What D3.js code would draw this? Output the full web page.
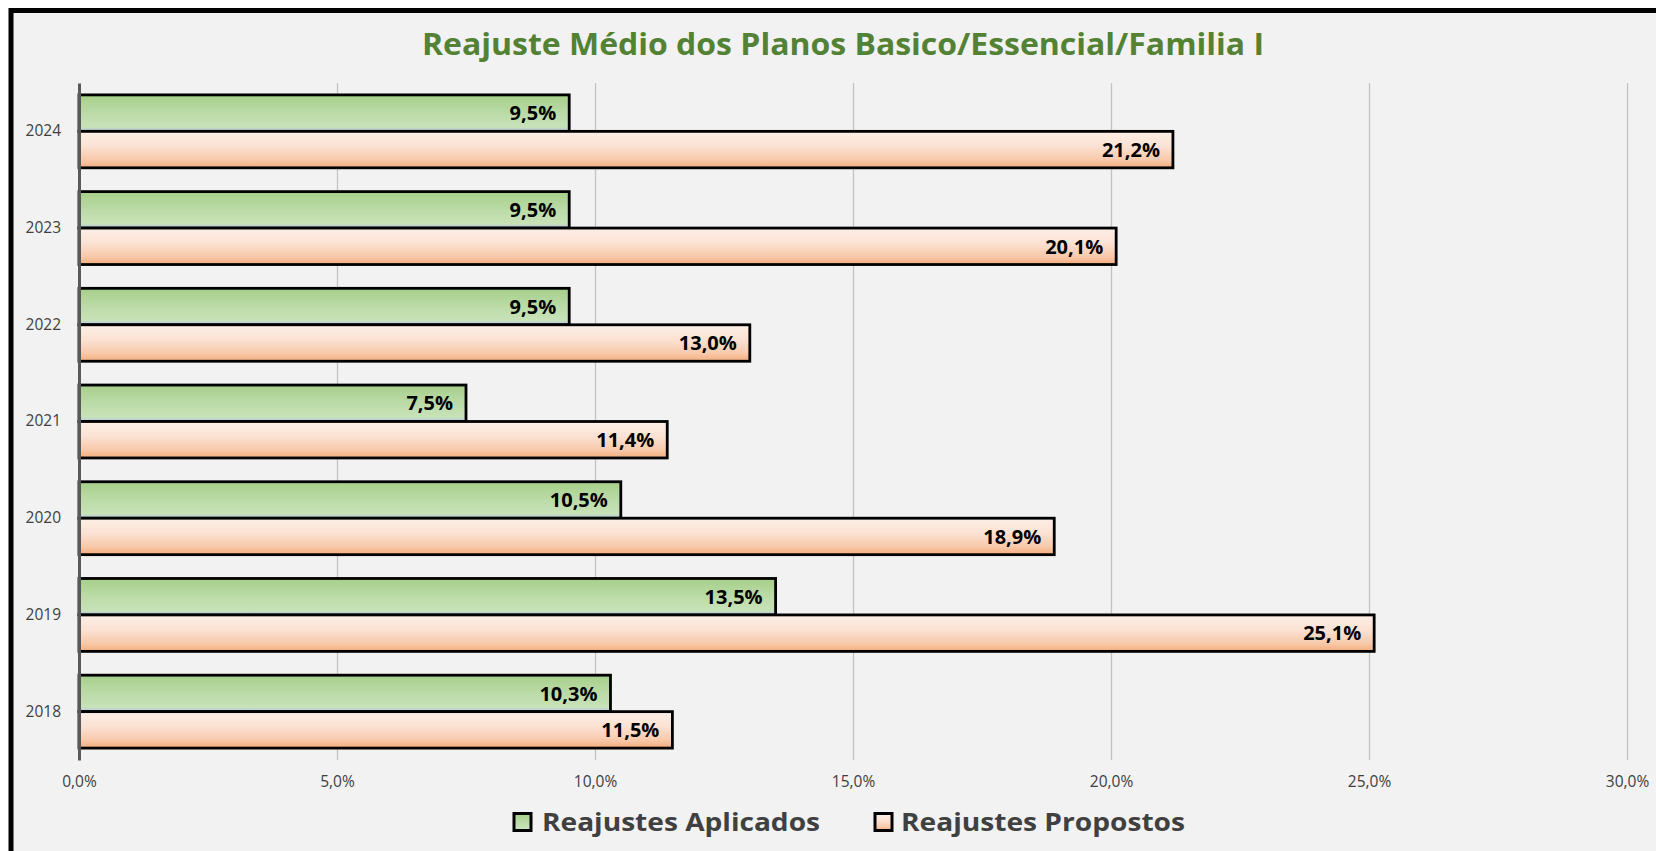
<!DOCTYPE html>
<html>
<head>
<meta charset="utf-8">
<script src="https://cdn.jsdelivr.net/npm/d3@7"></script>
<style>
  html, body { margin: 0; padding: 0; background: #ffffff; }
  svg { display: block; font-family: 'Open Sans', 'DejaVu Sans', sans-serif; }
</style>
</head>
<body>
<div id="chart"></div>
<script>
// Data
const years = ['2024', '2023', '2022', '2021', '2020', '2019', '2018'];
const aplicados = [9.5, 9.5, 9.5, 7.5, 10.5, 13.5, 10.3];
const propostos = [21.2, 20.1, 13.0, 11.4, 18.9, 25.1, 11.5];
const seriesNames = ['Reajustes Aplicados', 'Reajustes Propostos'];
const xTicks = [0, 5, 10, 15, 20, 25, 30];
const xTickLabels = ['0,0%', '5,0%', '10,0%', '15,0%', '20,0%', '25,0%', '30,0%'];
const title = 'Reajuste Médio dos Planos Basico/Essencial/Familia I';

const WIDTH = 1656;
const HEIGHT = 851;
const plot = { left: 79, right: 1627, top: 83, bottom: 760 };

const svg = d3.select('#chart')
    .append('svg')
    .attr('width', WIDTH)
    .attr('height', HEIGHT);

// Gradients for the bar fills
const defs = svg.append('defs');

const greenGrad = defs.append('linearGradient')
    .attr('id', 'grad-green')
    .attr('x1', 0).attr('y1', 0).attr('x2', 0).attr('y2', 1);
[['0%', '#a6cf8a'], ['55%', '#bddcaa'], ['88%', '#c8e2b8'], ['94%', '#bcd3d2'], ['100%', '#b4c7e0']]
    .forEach(([o, c]) => greenGrad.append('stop').attr('offset', o).attr('stop-color', c));

const orangeGrad = defs.append('linearGradient')
    .attr('id', 'grad-orange')
    .attr('x1', 0).attr('y1', 0).attr('x2', 0).attr('y2', 1);
[['0%', '#fdefe6'], ['40%', '#fbe2d4'], ['78%', '#f8c9aa'], ['100%', '#f3ad7e']]
    .forEach(([o, c]) => orangeGrad.append('stop').attr('offset', o).attr('stop-color', c));

const fills = ['url(#grad-green)', 'url(#grad-orange)'];

// Chart area with the thick frame (only top/left visible)
svg.append('rect')
    .attr('x', 11)
    .attr('y', 10.5)
    .attr('width', 1800)
    .attr('height', 1000)
    .style('fill', '#f2f2f2')
    .style('stroke', '#000')
    .style('stroke-width', 5);

// Title
svg.append('text')
    .attr('x', 843)
    .attr('y', 55)
    .attr('text-anchor', 'middle')
    .attr('textLength', 842)
    .attr('lengthAdjust', 'spacingAndGlyphs')
    .style('font-size', '31px')
    .style('font-weight', 700)
    .style('fill', '#548235')
    .text(title);

// Scales
const x = d3.scaleLinear()
    .domain([0, 30])
    .range([plot.left, plot.right]);

const y = d3.scaleBand()
    .domain(years)
    .range([plot.top, plot.bottom])
    .paddingInner(0.246)
    .paddingOuter(0.123);

const sub = d3.scaleBand()
    .domain([0, 1])
    .range([0, y.bandwidth()]);

// Gridlines + x tick labels
const xAxis = d3.axisBottom(x)
    .tickValues(xTicks)
    .tickFormat((d, i) => xTickLabels[i])
    .tickSize(-(plot.bottom - plot.top))
    .tickSizeOuter(0)
    .tickPadding(16);

const gx = svg.append('g')
    .attr('transform', `translate(0,${plot.bottom})`)
    .call(xAxis);
gx.select('.domain').remove();
gx.selectAll('.tick line')
    .style('stroke', '#c2c2c2')
    .style('stroke-width', 1.3)
    .filter(d => d === 0).remove();
gx.selectAll('.tick text')
    .style('font-family', "'Open Sans', sans-serif")
    .style('font-size', '15.5px')
    .style('fill', '#404040');

// Bars
const rows = years.map((yr, i) => ({ year: yr, values: [aplicados[i], propostos[i]] }));

const groups = svg.append('g')
    .selectAll('g')
    .data(rows)
    .join('g')
    .attr('transform', d => `translate(0,${y(d.year)})`);

const bars = groups.selectAll('g.bar')
    .data(d => d.values.map((v, k) => ({ v, k })))
    .join('g')
    .attr('class', 'bar');

bars.append('rect')
    .attr('x', x(0))
    .attr('y', d => sub(d.k))
    .attr('width', d => x(d.v) - x(0))
    .attr('height', sub.bandwidth())
    .style('fill', d => fills[d.k])
    .style('stroke', '#000')
    .style('stroke-width', 2.8);

bars.append('text')
    .attr('x', d => x(d.v) - 13)
    .attr('y', d => sub(d.k) + sub.bandwidth() / 2)
    .attr('dy', '0.36em')
    .attr('text-anchor', 'end')
    .style('font-size', '20px')
    .style('font-weight', 700)
    .style('fill', '#000')
    .text(d => d3.format('.1f')(d.v).replace('.', ',') + '%');

// Y axis
const gy = svg.append('g')
    .attr('transform', `translate(${plot.left},0)`)
    .call(d3.axisLeft(y).tickSize(0).tickSizeOuter(0).tickPadding(18));
gy.select('.domain')
    .style('stroke', '#595959')
    .style('stroke-width', 3);
gy.selectAll('.tick text')
    .style('font-family', "'Open Sans', sans-serif")
    .style('font-size', '15.5px')
    .style('fill', '#404040');

// Legend
const legendItems = [
    { name: seriesNames[0], fill: fills[0], box: 514, textX: 542, textW: 278 },
    { name: seriesNames[1], fill: fills[1], box: 875, textX: 901, textW: 284 }
];
const legendY = 822;

const legend = svg.append('g')
    .selectAll('g')
    .data(legendItems)
    .join('g');

legend.append('rect')
    .attr('x', d => d.box)
    .attr('y', legendY - 8.5)
    .attr('width', 17)
    .attr('height', 17)
    .style('fill', d => d.fill)
    .style('stroke', '#000')
    .style('stroke-width', 3);

legend.append('text')
    .attr('x', d => d.textX)
    .attr('y', legendY)
    .attr('dy', '0.36em')
    .attr('textLength', d => d.textW)
    .attr('lengthAdjust', 'spacingAndGlyphs')
    .style('font-size', '25px')
    .style('font-weight', 700)
    .style('fill', '#404040')
    .text(d => d.name);
</script>
</body>
</html>
